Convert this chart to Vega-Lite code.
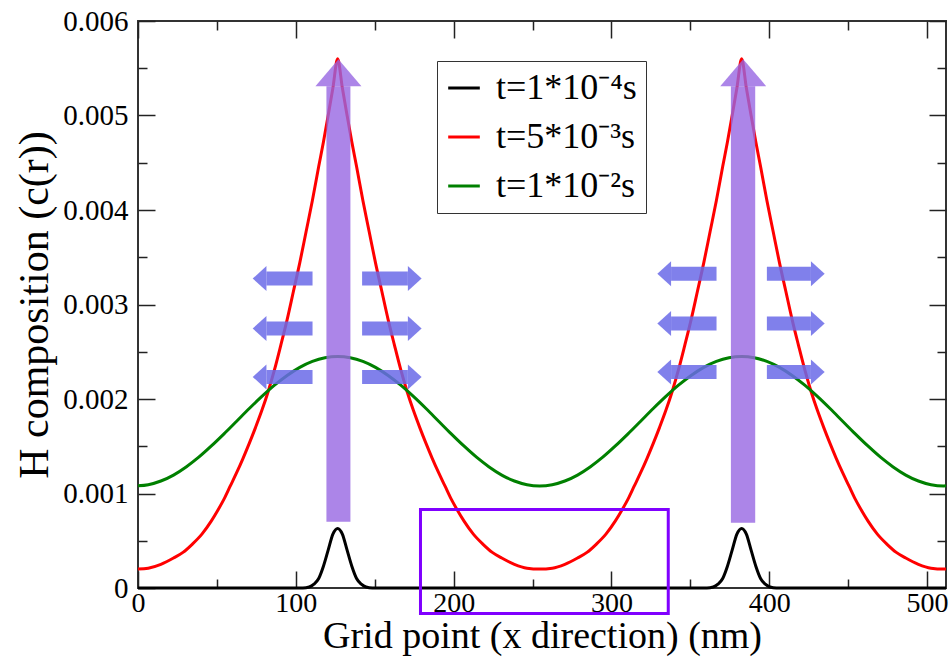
{
"$schema": "https://vega.github.io/schema/vega-lite/v6.json",
"width": 808, "height": 567,
"autosize": {"type": "none"},
"padding": {"left": 138, "top": 21, "right": 6, "bottom": 71},
"background": "white",
"config": {
  "font": "Liberation Serif",
  "view": {"stroke": "#333", "strokeWidth": 2},
  "legend": {"labelFont": "Liberation Serif", "titleFont": "Liberation Serif"},
  "axis": {"grid": false, "domain": false, "labelFlush": false, "labelOverlap": false, "labelBound": false,
           "tickColor": "#222", "tickWidth": 1.5, "labelColor": "black", "titleColor": "black",
           "titleFontWeight": "normal", "labelFont": "Liberation Serif", "titleFont": "Liberation Serif"}
},
"datasets": {
  "curves": [
    {"s":"k","x":0,"c":0},{"s":"k","x":104.5,"c":0},{"s":"k","x":108.5,"c":0.00001},{"s":"k","x":111.5,"c":0.00004},{"s":"k","x":114.5,"c":0.0001},{"s":"k","x":117.5,"c":0.00023},{"s":"k","x":120.5,"c":0.0004},{"s":"k","x":123.5,"c":0.00057},{"s":"k","x":126.5,"c":0.00063},{"s":"k","x":129.5,"c":0.00057},{"s":"k","x":132.5,"c":0.0004},{"s":"k","x":135.5,"c":0.00023},{"s":"k","x":138.5,"c":0.0001},{"s":"k","x":141.5,"c":0.00004},{"s":"k","x":144.5,"c":0.00001},{"s":"k","x":148.5,"c":0},
    {"s":"k","x":360.5,"c":0},{"s":"k","x":364.5,"c":0.00001},{"s":"k","x":367.5,"c":0.00004},{"s":"k","x":370.5,"c":0.0001},{"s":"k","x":373.5,"c":0.00023},{"s":"k","x":376.5,"c":0.0004},{"s":"k","x":379.5,"c":0.00057},{"s":"k","x":382.5,"c":0.00063},{"s":"k","x":385.5,"c":0.00057},{"s":"k","x":388.5,"c":0.0004},{"s":"k","x":391.5,"c":0.00023},{"s":"k","x":394.5,"c":0.0001},{"s":"k","x":397.5,"c":0.00004},{"s":"k","x":400.5,"c":0.00001},{"s":"k","x":404.5,"c":0},{"s":"k","x":512,"c":0},
    {"s":"r","x":0,"c":0.0002},{"s":"r","x":6.5,"c":0.00021},{"s":"r","x":14.5,"c":0.000251},{"s":"r","x":22.5,"c":0.000317},{"s":"r","x":28.5,"c":0.000377},{"s":"r","x":34.5,"c":0.000465},{"s":"r","x":40.5,"c":0.00057},{"s":"r","x":46.5,"c":0.00071},{"s":"r","x":50.5,"c":0.00082},{"s":"r","x":54.5,"c":0.00094},{"s":"r","x":58.5,"c":0.00108},{"s":"r","x":62.5,"c":0.00122},{"s":"r","x":66.5,"c":0.00137},{"s":"r","x":70.5,"c":0.00153},{"s":"r","x":74.5,"c":0.0017},{"s":"r","x":78.5,"c":0.00188},{"s":"r","x":82.5,"c":0.00208},{"s":"r","x":86.5,"c":0.00231},{"s":"r","x":90.5,"c":0.00257},{"s":"r","x":94.5,"c":0.00284},{"s":"r","x":98.5,"c":0.00314},{"s":"r","x":102.5,"c":0.00344},{"s":"r","x":106.5,"c":0.00377},{"s":"r","x":110.5,"c":0.0041},{"s":"r","x":114.5,"c":0.00446},{"s":"r","x":117.5,"c":0.00472},{"s":"r","x":120.5,"c":0.005},{"s":"r","x":123.5,"c":0.00529},{"s":"r","x":126.5,"c":0.0056},
    {"s":"r","x":129.5,"c":0.00529},{"s":"r","x":132.5,"c":0.005},{"s":"r","x":135.5,"c":0.00472},{"s":"r","x":138.5,"c":0.00446},{"s":"r","x":142.5,"c":0.0041},{"s":"r","x":146.5,"c":0.00377},{"s":"r","x":150.5,"c":0.00344},{"s":"r","x":154.5,"c":0.00314},{"s":"r","x":158.5,"c":0.00284},{"s":"r","x":162.5,"c":0.00257},{"s":"r","x":166.5,"c":0.00231},{"s":"r","x":170.5,"c":0.00208},{"s":"r","x":174.5,"c":0.00188},{"s":"r","x":178.5,"c":0.0017},{"s":"r","x":182.5,"c":0.00153},{"s":"r","x":186.5,"c":0.00137},{"s":"r","x":190.5,"c":0.00122},{"s":"r","x":194.5,"c":0.00108},{"s":"r","x":198.5,"c":0.00094},{"s":"r","x":202.5,"c":0.00082},{"s":"r","x":206.5,"c":0.00071},{"s":"r","x":212.5,"c":0.00057},{"s":"r","x":218.5,"c":0.000465},{"s":"r","x":224.5,"c":0.000377},{"s":"r","x":230.5,"c":0.000317},{"s":"r","x":238.5,"c":0.000251},{"s":"r","x":246.5,"c":0.00021},{"s":"r","x":254.5,"c":0.0002},
    {"s":"r","x":262.5,"c":0.00021},{"s":"r","x":270.5,"c":0.000251},{"s":"r","x":278.5,"c":0.000317},{"s":"r","x":284.5,"c":0.000377},{"s":"r","x":290.5,"c":0.000465},{"s":"r","x":296.5,"c":0.00057},{"s":"r","x":302.5,"c":0.00071},{"s":"r","x":306.5,"c":0.00082},{"s":"r","x":310.5,"c":0.00094},{"s":"r","x":314.5,"c":0.00108},{"s":"r","x":318.5,"c":0.00122},{"s":"r","x":322.5,"c":0.00137},{"s":"r","x":326.5,"c":0.00153},{"s":"r","x":330.5,"c":0.0017},{"s":"r","x":334.5,"c":0.00188},{"s":"r","x":338.5,"c":0.00208},{"s":"r","x":342.5,"c":0.00231},{"s":"r","x":346.5,"c":0.00257},{"s":"r","x":350.5,"c":0.00284},{"s":"r","x":354.5,"c":0.00314},{"s":"r","x":358.5,"c":0.00344},{"s":"r","x":362.5,"c":0.00377},{"s":"r","x":366.5,"c":0.0041},{"s":"r","x":370.5,"c":0.00446},{"s":"r","x":373.5,"c":0.00472},{"s":"r","x":376.5,"c":0.005},{"s":"r","x":379.5,"c":0.00529},{"s":"r","x":382.5,"c":0.0056},
    {"s":"r","x":385.5,"c":0.00529},{"s":"r","x":388.5,"c":0.005},{"s":"r","x":391.5,"c":0.00472},{"s":"r","x":394.5,"c":0.00446},{"s":"r","x":398.5,"c":0.0041},{"s":"r","x":402.5,"c":0.00377},{"s":"r","x":406.5,"c":0.00344},{"s":"r","x":410.5,"c":0.00314},{"s":"r","x":414.5,"c":0.00284},{"s":"r","x":418.5,"c":0.00257},{"s":"r","x":422.5,"c":0.00231},{"s":"r","x":426.5,"c":0.00208},{"s":"r","x":430.5,"c":0.00188},{"s":"r","x":434.5,"c":0.0017},{"s":"r","x":438.5,"c":0.00153},{"s":"r","x":442.5,"c":0.00137},{"s":"r","x":446.5,"c":0.00122},{"s":"r","x":450.5,"c":0.00108},{"s":"r","x":454.5,"c":0.00094},{"s":"r","x":458.5,"c":0.00082},{"s":"r","x":462.5,"c":0.00071},{"s":"r","x":468.5,"c":0.00057},{"s":"r","x":474.5,"c":0.000465},{"s":"r","x":480.5,"c":0.000377},{"s":"r","x":486.5,"c":0.000317},{"s":"r","x":494.5,"c":0.000251},{"s":"r","x":502.5,"c":0.00021},{"s":"r","x":510.5,"c":0.0002},{"s":"r","x":512,"c":0.0002},
    {"s":"g","x":0,"c":0.001081},{"s":"g","x":6.5,"c":0.001093},{"s":"g","x":14.5,"c":0.001132},{"s":"g","x":22.5,"c":0.001195},{"s":"g","x":30.5,"c":0.001281},{"s":"g","x":38.5,"c":0.001384},{"s":"g","x":46.5,"c":0.001503},{"s":"g","x":54.5,"c":0.001631},{"s":"g","x":62.5,"c":0.001765},{"s":"g","x":70.5,"c":0.001899},{"s":"g","x":78.5,"c":0.002027},{"s":"g","x":86.5,"c":0.002146},{"s":"g","x":94.5,"c":0.002249},{"s":"g","x":102.5,"c":0.002335},{"s":"g","x":110.5,"c":0.002398},{"s":"g","x":118.5,"c":0.002437},{"s":"g","x":126.5,"c":0.00245},
    {"s":"g","x":134.5,"c":0.002437},{"s":"g","x":142.5,"c":0.002398},{"s":"g","x":150.5,"c":0.002335},{"s":"g","x":158.5,"c":0.002249},{"s":"g","x":166.5,"c":0.002146},{"s":"g","x":174.5,"c":0.002027},{"s":"g","x":182.5,"c":0.001899},{"s":"g","x":190.5,"c":0.001765},{"s":"g","x":198.5,"c":0.001631},{"s":"g","x":206.5,"c":0.001503},{"s":"g","x":214.5,"c":0.001384},{"s":"g","x":222.5,"c":0.001281},{"s":"g","x":230.5,"c":0.001195},{"s":"g","x":238.5,"c":0.001132},{"s":"g","x":246.5,"c":0.001093},{"s":"g","x":254.5,"c":0.00108},
    {"s":"g","x":262.5,"c":0.001093},{"s":"g","x":270.5,"c":0.001132},{"s":"g","x":278.5,"c":0.001195},{"s":"g","x":286.5,"c":0.001281},{"s":"g","x":294.5,"c":0.001384},{"s":"g","x":302.5,"c":0.001503},{"s":"g","x":310.5,"c":0.001631},{"s":"g","x":318.5,"c":0.001765},{"s":"g","x":326.5,"c":0.001899},{"s":"g","x":334.5,"c":0.002027},{"s":"g","x":342.5,"c":0.002146},{"s":"g","x":350.5,"c":0.002249},{"s":"g","x":358.5,"c":0.002335},{"s":"g","x":366.5,"c":0.002398},{"s":"g","x":374.5,"c":0.002437},{"s":"g","x":382.5,"c":0.00245},
    {"s":"g","x":390.5,"c":0.002437},{"s":"g","x":398.5,"c":0.002398},{"s":"g","x":406.5,"c":0.002335},{"s":"g","x":414.5,"c":0.002249},{"s":"g","x":422.5,"c":0.002146},{"s":"g","x":430.5,"c":0.002027},{"s":"g","x":438.5,"c":0.001899},{"s":"g","x":446.5,"c":0.001765},{"s":"g","x":454.5,"c":0.001631},{"s":"g","x":462.5,"c":0.001503},{"s":"g","x":470.5,"c":0.001384},{"s":"g","x":478.5,"c":0.001281},{"s":"g","x":486.5,"c":0.001195},{"s":"g","x":494.5,"c":0.001132},{"s":"g","x":502.5,"c":0.001093},{"s":"g","x":510.5,"c":0.00108},{"s":"g","x":512,"c":0.001081}
  ],
  "box": [{"x": 179, "x2": 336, "c": 0.00083, "c2": -0.00027}],
  "vshaft": [{"x": 119.4, "x2": 134.6, "c": 0.0007, "c2": 0.00531}, {"x": 375.7, "x2": 391.1, "c": 0.00069, "c2": 0.00531}],
  "vhead": [{"x": 127, "c": 0.00531}, {"x": 383.5, "c": 0.00531}],
  "hshaft": [
    {"x": 81.4, "x2": 110.6, "c": 0.003274}, {"x": 81.4, "x2": 110.6, "c": 0.002746}, {"x": 81.4, "x2": 110.6, "c": 0.002234},
    {"x": 142, "x2": 171, "c": 0.003274}, {"x": 142, "x2": 171, "c": 0.002746}, {"x": 142, "x2": 171, "c": 0.002234},
    {"x": 337.8, "x2": 366.6, "c": 0.003326}, {"x": 337.8, "x2": 366.6, "c": 0.002798}, {"x": 337.8, "x2": 366.6, "c": 0.002287},
    {"x": 398.5, "x2": 426.4, "c": 0.003326}, {"x": 398.5, "x2": 426.4, "c": 0.002798}, {"x": 398.5, "x2": 426.4, "c": 0.002287}
  ],
  "hhead": [
    {"x": 81.4, "c": 0.003274, "dir": "L"}, {"x": 81.4, "c": 0.002746, "dir": "L"}, {"x": 81.4, "c": 0.002234, "dir": "L"},
    {"x": 171, "c": 0.003274, "dir": "R"}, {"x": 171, "c": 0.002746, "dir": "R"}, {"x": 171, "c": 0.002234, "dir": "R"},
    {"x": 337.8, "c": 0.003326, "dir": "L"}, {"x": 337.8, "c": 0.002798, "dir": "L"}, {"x": 337.8, "c": 0.002287, "dir": "L"},
    {"x": 426.4, "c": 0.003326, "dir": "R"}, {"x": 426.4, "c": 0.002798, "dir": "R"}, {"x": 426.4, "c": 0.002287, "dir": "R"}
  ]
},
"layer": [
  {
    "data": {"name": "curves"},
    "mark": {"type": "line", "strokeWidth": 3, "interpolate": "monotone"},
    "encoding": {
      "x": {"field": "x", "type": "quantitative", "scale": {"domain": [0, 512], "nice": false, "zero": false},
            "axis": {"orient": "bottom", "values": [0, 100, 200, 300, 400, 500], "ticks": false, "labelFontSize": 28, "labelPadding": 1,
                     "title": "Grid point (x direction) (nm)", "titleFontSize": 38, "titlePadding": 0}},
      "y": {"field": "c", "type": "quantitative", "scale": {"domain": [0, 0.006], "nice": false, "zero": false},
            "axis": {"orient": "left", "values": [0, 0.001, 0.002, 0.003, 0.004, 0.005, 0.006], "ticks": false, "labelFontSize": 29, "labelPadding": 10,
                     "labelExpr": "datum.value == 0 ? '0' : format(datum.value, '.3f')",
                     "title": "H composition (c(r))", "titleFontSize": 42, "titlePadding": 6}},
      "color": {"field": "s", "type": "nominal",
                "scale": {"domain": ["k", "r", "g"], "range": ["#000000", "#ff0000", "#008000"]},
                "legend": {"orient": "none", "legendX": 299, "legendY": 40, "title": null,
                           "labelFont": "Liberation Serif", "labelFontSize": 36, "labelColor": "black",
                           "symbolType": "stroke", "symbolSize": 1000, "symbolStrokeWidth": 3,
                           "strokeColor": "#333", "fillColor": "white", "padding": 9, "rowPadding": 13, "labelOffset": 14,
                           "labelExpr": "datum.label == 'k' ? 't=1*10⁻⁴s' : datum.label == 'r' ? 't=5*10⁻³s' : 't=1*10⁻²s'"}}
    }
  },
  {
    "data": {"name": "box"},
    "mark": {"type": "rect", "fill": null, "fillOpacity": 0, "stroke": "#8000ff", "strokeWidth": 3, "clip": false},
    "encoding": {
      "x": {"field": "x", "type": "quantitative", "scale": {"domain": [0, 512], "nice": false, "zero": false},
            "axis": {"orient": "bottom", "values": [0, 100, 200, 300, 400, 500], "labels": false, "tickSize": -17, "title": null}},
      "x2": {"field": "x2"},
      "y": {"field": "c", "type": "quantitative", "scale": {"domain": [0, 0.006], "nice": false, "zero": false},
            "axis": {"orient": "left", "values": [0, 0.001, 0.002, 0.003, 0.004, 0.005, 0.006], "labels": false, "tickSize": -17, "title": null}},
      "y2": {"field": "c2"}
    }
  },
  {
    "data": {"name": "vshaft"},
    "mark": {"type": "rect", "fill": "#9767e2", "opacity": 0.8},
    "encoding": {
      "x": {"field": "x", "type": "quantitative", "scale": {"domain": [0, 512], "nice": false, "zero": false},
            "axis": {"orient": "bottom", "values": [50, 150, 250, 350, 450], "labels": false, "tickSize": -9, "title": null}},
      "x2": {"field": "x2"},
      "y": {"field": "c", "type": "quantitative", "scale": {"domain": [0, 0.006], "nice": false, "zero": false},
            "axis": {"orient": "left", "values": [0.0005, 0.0015, 0.0025, 0.0035, 0.0045, 0.0055], "labels": false, "tickSize": -9, "title": null}},
      "y2": {"field": "c2"}
    }
  },
  {
    "data": {"name": "vhead"},
    "mark": {"type": "point", "shape": "M-1,0L0,-1.17L1,0Z", "size": 2116, "filled": true, "fill": "#9767e2", "opacity": 0.8, "strokeWidth": 0},
    "encoding": {
      "x": {"field": "x", "type": "quantitative", "scale": {"domain": [0, 512], "nice": false, "zero": false},
            "axis": {"orient": "top", "values": [0, 100, 200, 300, 400, 500], "labels": false, "tickSize": -17, "title": null}},
      "y": {"field": "c", "type": "quantitative", "scale": {"domain": [0, 0.006], "nice": false, "zero": false},
            "axis": {"orient": "right", "values": [0, 0.001, 0.002, 0.003, 0.004, 0.005, 0.006], "labels": false, "tickSize": -17, "title": null}}
    }
  },
  {
    "data": {"name": "hshaft"},
    "mark": {"type": "rule", "stroke": "#6a6ae8", "strokeWidth": 14, "opacity": 0.85, "strokeCap": "butt"},
    "encoding": {
      "x": {"field": "x", "type": "quantitative", "scale": {"domain": [0, 512], "nice": false, "zero": false},
            "axis": {"orient": "top", "values": [50, 150, 250, 350, 450], "labels": false, "tickSize": -9, "title": null}},
      "x2": {"field": "x2"},
      "y": {"field": "c", "type": "quantitative", "scale": {"domain": [0, 0.006], "nice": false, "zero": false},
            "axis": {"orient": "right", "values": [0.0005, 0.0015, 0.0025, 0.0035, 0.0045, 0.0055], "labels": false, "tickSize": -9, "title": null}}
    }
  },
  {
    "data": {"name": "hhead"},
    "mark": {"type": "point", "size": 625, "filled": true, "fill": "#6a6ae8", "opacity": 0.85, "strokeWidth": 0},
    "encoding": {
      "x": {"field": "x", "type": "quantitative", "scale": {"domain": [0, 512], "nice": false, "zero": false}, "axis": null},
      "y": {"field": "c", "type": "quantitative", "scale": {"domain": [0, 0.006], "nice": false, "zero": false}, "axis": null},
      "shape": {"field": "dir", "type": "nominal", "scale": {"domain": ["L", "R"], "range": ["M0,-1L-1.1,0L0,1Z", "M0,-1L1.1,0L0,1Z"]}, "legend": null}
    }
  }
],
"resolve": {"axis": {"x": "independent", "y": "independent"}}
}
